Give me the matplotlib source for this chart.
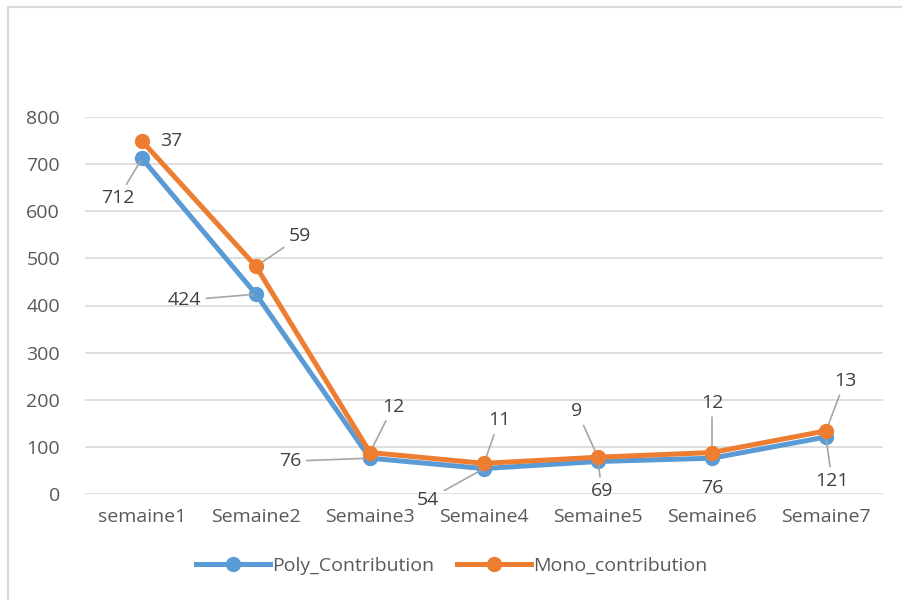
import matplotlib.pyplot as plt
from matplotlib.lines import Line2D

weeks = ['semaine1', 'Semaine2', 'Semaine3', 'Semaine4', 'Semaine5', 'Semaine6', 'Semaine7']
poly = [712, 424, 76, 54, 69, 76, 121]
mono = [37, 59, 12, 11, 9, 12, 13]

# label offsets in pixels (dx, dy) from the point, screen direction (y up)
poly_off = [(-24, -40), (-72, -6), (-80, -3), (-56, -31), (4, -30), (0, -30), (6, -44)]
mono_off = [(29, 0), (44, 30), (23, 46), (15, 43), (-21, 46), (0, 50), (19, 50)]
poly_leader = [True, True, True, True, True, False, True]
mono_leader = [False, True, True, True, True, True, True]

blue = '#5B9BD5'
orange = '#ED7D31'
grey_txt = '#595959'
font = 'Open Sans'
fs = 14

fig = plt.figure(figsize=(9.03, 6.0), dpi=100)
# chart border (only left and top edges are visible in the crop)
fig.lines.append(Line2D([8 / 903, 8 / 903], [0, 1 - 7 / 600], transform=fig.transFigure,
                        color='#D9D9D9', lw=1.5))
fig.lines.append(Line2D([8 / 903, 1], [1 - 7 / 600, 1 - 7 / 600], transform=fig.transFigure,
                        color='#D9D9D9', lw=1.5))
ax = fig.add_axes([85 / 903, 106 / 600, 798 / 903, 377 / 600])

x = list(range(len(weeks)))
stacked = [p + m for p, m in zip(poly, mono)]

ax.plot(x, poly, color=blue, lw=3.6, marker='o', ms=10, label='Poly_Contribution', zorder=3)
ax.plot(x, stacked, color=orange, lw=3.6, marker='o', ms=10, label='Mono_contribution', zorder=4)

ax.set_xlim(-0.5, len(weeks) - 0.5)
ax.set_ylim(0, 800)
ax.set_yticks(range(0, 801, 100))
ax.set_xticks(x)
ax.set_xticklabels(weeks)
ax.grid(axis='y', color='#D9D9D9', lw=1.2)
ax.set_axisbelow(True)
for s in ax.spines.values():
    s.set_visible(False)
ax.tick_params(length=0, labelsize=fs, labelcolor=grey_txt, pad=10)
for lab in ax.get_xticklabels() + ax.get_yticklabels():
    lab.set_fontfamily(font)
ax.tick_params(axis='y', pad=18)

k = 0.72  # px -> pt
for i in x:
    dx, dy = poly_off[i]
    ax.annotate(str(poly[i]), (i, poly[i]), xytext=(dx * k, dy * k), textcoords='offset points',
                ha='center', va='center', fontsize=fs, color='#404040', family=font,
                arrowprops=dict(arrowstyle='-', color='#A6A6A6', lw=1.2, shrinkA=2, shrinkB=2)
                if poly_leader[i] else None)
    dx, dy = mono_off[i]
    ax.annotate(str(mono[i]), (i, stacked[i]), xytext=(dx * k, dy * k), textcoords='offset points',
                ha='center', va='center', fontsize=fs, color='#404040', family=font,
                arrowprops=dict(arrowstyle='-', color='#A6A6A6', lw=1.2, shrinkA=2, shrinkB=2)
                if mono_leader[i] else None)

leg = fig.legend(loc='center', bbox_to_anchor=(0.5, 34 / 600), ncol=2, frameon=False,
                 prop={'family': font, 'size': fs}, handlelength=3.8, columnspacing=1.2,
                 handletextpad=0.1)
for t in leg.get_texts():
    t.set_color(grey_txt)

fig.savefig('out.png', dpi=100)
